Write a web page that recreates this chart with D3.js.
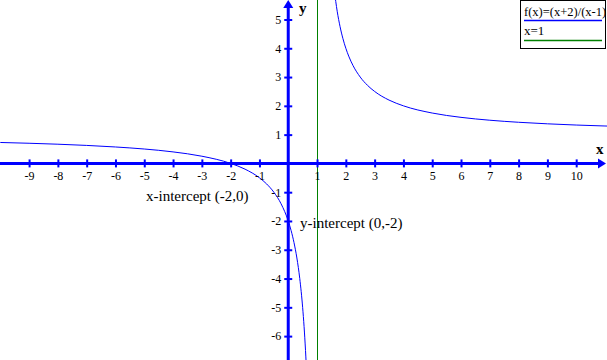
<!DOCTYPE html>
<html>
<head>
<meta charset="utf-8">
<script src="https://cdn.jsdelivr.net/npm/d3@7"></script>
<style>
  body { margin: 0; background: #fff; }
  svg text { font-family: "Liberation Serif", "Times New Roman", serif; }
</style>
</head>
<body>
<script>
// f(x)=(x+2)/(x-1), points, two branches either side of x=1
var leftX = [-10, -9, -8, -7, -6, -5, -4, -3, -2, -1.5, -1, -0.75, -0.5, -0.25, 0, 0.1, 0.2, 0.3, 0.4, 0.5, 0.55, 0.6, 0.62];
var leftY = [0.727, 0.7, 0.667, 0.625, 0.571, 0.5, 0.4, 0.25, 0, -0.2, -0.5, -0.714, -1, -1.4, -2, -2.333, -2.75, -3.286, -4, -5, -5.667, -6.5, -6.895];
var rightX = [1.6, 1.7, 1.8, 1.9, 2, 2.1, 2.25, 2.5, 2.75, 3, 3.5, 4, 5, 6, 7, 8, 9, 10, 11, 11.2];
var rightY = [6, 5.286, 4.75, 4.333, 4, 3.727, 3.4, 3, 2.714, 2.5, 2.2, 2, 1.75, 1.6, 1.5, 1.429, 1.375, 1.333, 1.3, 1.294];
var asymptoteX = 1;

var xTicks = [-9, -8, -7, -6, -5, -4, -3, -2, -1, 1, 2, 3, 4, 5, 6, 7, 8, 9, 10];
var yTicks = [-6, -5, -4, -3, -2, -1, 1, 2, 3, 4, 5];

var legendLabels = ["f(x)=(x+2)/(x-1)", "x=1"];
var notes = [
  {text: "x-intercept (-2,0)", x: -2, y: 0},
  {text: "y-intercept (0,-2)", x: 0, y: -2}
];

var width = 607, height = 360;
var blue = "#0000ff", green = "#008000";

var svg = d3.select("body").append("svg")
    .attr("width", width)
    .attr("height", height);

// unit = 28.8px both ways, origin at (288.3, 163.5)
var x = d3.scaleLinear().domain([-10.01, 11.07]).range([0, width]);
var y = d3.scaleLinear().domain([-6.83, 5.677]).range([height, 0]);

svg.append("clipPath").attr("id", "clip")
  .append("rect").attr("width", width).attr("height", height);

var plot = svg.append("g").attr("clip-path", "url(#clip)");

// vertical asymptote
plot.append("line")
    .attr("x1", Math.floor(x(asymptoteX)) + 0.5).attr("x2", Math.floor(x(asymptoteX)) + 0.5)
    .attr("y1", 0).attr("y2", height)
    .attr("stroke", green).attr("stroke-width", 1);

// axes
var x0 = x(0), y0 = y(0);
var fmt = function(d) { return String(d); };   // plain hyphen minus like the original

var xAxis = svg.append("g")
    .attr("transform", "translate(0," + y0 + ")")
    .call(d3.axisBottom(x).tickValues(xTicks).tickFormat(fmt).tickSize(4).tickPadding(4).tickSizeOuter(0));
xAxis.select(".domain").remove();
xAxis.selectAll(".tick line").attr("y1", -4).attr("y2", 4).attr("stroke", blue).attr("stroke-width", 2);
xAxis.selectAll(".tick text").attr("font-size", 12).attr("fill", "#000")
    .style("font-family", "'Liberation Serif', serif");

var yAxis = svg.append("g")
    .attr("transform", "translate(" + x0 + ",0)")
    .call(d3.axisLeft(y).tickValues(yTicks).tickFormat(fmt).tickSize(4).tickPadding(3).tickSizeOuter(0));
yAxis.select(".domain").remove();
yAxis.selectAll(".tick line").attr("x1", -4).attr("x2", 4).attr("stroke", blue).attr("stroke-width", 2);
yAxis.selectAll(".tick text").attr("font-size", 12).attr("fill", "#000")
    .style("font-family", "'Liberation Serif', serif");

svg.append("line")
    .attr("x1", 0).attr("x2", width - 6)
    .attr("y1", y0).attr("y2", y0)
    .attr("stroke", blue).attr("stroke-width", 3);
svg.append("line")
    .attr("x1", x0).attr("x2", x0)
    .attr("y1", 6).attr("y2", height)
    .attr("stroke", blue).attr("stroke-width", 3);

// arrow heads
svg.append("path")
    .attr("d", "M" + (width - 9) + "," + (y0 - 5) + "L" + (width - 1) + "," + y0 + "L" + (width - 9) + "," + (y0 + 5) + "Z")
    .attr("fill", blue);
svg.append("path")
    .attr("d", "M" + (x0 - 5) + ",8L" + x0 + ",0L" + (x0 + 5) + ",8Z")
    .attr("fill", blue);

svg.append("text").attr("x", 596).attr("y", 154)
    .attr("font-size", 15).attr("font-weight", "bold").text("x");
svg.append("text").attr("x", 299).attr("y", 13)
    .attr("font-size", 15).attr("font-weight", "bold").text("y");

// the curve
var line = d3.line()
    .x(function(d) { return x(d[0]); })
    .y(function(d) { return y(d[1]); })
    .curve(d3.curveMonotoneX);

[d3.zip(leftX, leftY), d3.zip(rightX, rightY)].forEach(function(pts) {
  plot.append("path")
      .datum(pts)
      .attr("d", line)
      .attr("fill", "none")
      .attr("stroke", blue)
      .attr("stroke-width", 1);
});

// intercept notes
svg.append("text").attr("x", 146).attr("y", 201)
    .attr("font-size", 15).text(notes[0].text);
svg.append("text").attr("x", 300).attr("y", 228)
    .attr("font-size", 15).text(notes[1].text);

// legend
var legend = svg.append("g");
legend.append("rect")
    .attr("x", 520.5).attr("y", 0.5).attr("width", 85).attr("height", 48)
    .attr("fill", "#fff").attr("stroke", "#000");
[blue, green].forEach(function(c, i) {
  legend.append("text")
      .attr("x", 524).attr("y", 16 + i * 19)
      .attr("font-size", i === 0 ? 12.5 : 13).text(legendLabels[i]);
  legend.append("line")
      .attr("x1", 524).attr("x2", 602)
      .attr("y1", 20.5 + i * 20).attr("y2", 20.5 + i * 20)
      .attr("stroke", c).attr("stroke-width", 1.5);
});
</script>
</body>
</html>
